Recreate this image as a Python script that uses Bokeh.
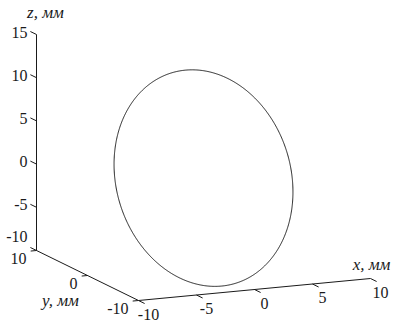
import numpy as np
from bokeh.plotting import figure
from bokeh.models import Range1d
from bokeh.embed import file_html
from bokeh.resources import INLINE
from bokeh.core.properties import value

# ---- axis limits, ticks and labels (mm) ----
x_lim = [-10, 10]
y_lim = [-10, 10]
z_lim = [-10, 15]
x_ticks = [-10, -5, 0, 5, 10]
y_ticks = [-10, 0, 10]
z_ticks = [-10, -5, 0, 5, 10, 15]
x_tick_labels = ["-10", "-5", "0", "5", "10"]
y_tick_labels = ["-10", "0", "10"]
z_tick_labels = ["-10", "-5", "0", "5", "10", "15"]
axis_titles = ["x, мм", "y, мм", "z, мм"]

# ---- the circle: centre, radius and orientation of its plane ----
circle_center = [0.0, 0.0, 0.0]
circle_radius = 12.0
normal_azimuth_deg = 12.0
normal_elevation_deg = -5.0

# ---- orthographic view: pixel position of the origin and of a unit step along each axis ----
VIEW_ORIGIN = np.array([203.0, 177.6])
E_X = np.array([11.6, -1.1])
E_Y = np.array([-5.1, -2.5])
E_Z = np.array([0.0, -8.64])


def project(x, y, z):
    x = np.asarray(x, dtype=float)
    y = np.asarray(y, dtype=float)
    z = np.asarray(z, dtype=float)
    sx = VIEW_ORIGIN[0] + x * E_X[0] + y * E_Y[0] + z * E_Z[0]
    sy = VIEW_ORIGIN[1] + x * E_X[1] + y * E_Y[1] + z * E_Z[1]
    return sx, sy


# circle points in 3D
az = np.radians(normal_azimuth_deg)
el = np.radians(normal_elevation_deg)
n = np.array([np.cos(el) * np.cos(az), np.cos(el) * np.sin(az), np.sin(el)])
u = np.cross(n, [0.0, 0.0, 1.0])
u /= np.linalg.norm(u)
v = np.cross(n, u)
t = np.linspace(0, 2 * np.pi, 721)
pts = (np.array(circle_center)[:, None]
       + circle_radius * (np.outer(u, np.cos(t)) + np.outer(v, np.sin(t))))

W, H = 395, 321
p = figure(width=W, height=H, output_backend="svg", toolbar_location=None,
           x_range=Range1d(0, W), y_range=Range1d(H, 0), min_border=0)
p.axis.visible = False
p.grid.visible = False
p.outline_line_color = None
p.background_fill_color = "white"
p.border_fill_color = "white"

INK = "#1a1a1a"
FONT = value("Liberation Serif")
TICK_SIZE = "16px"
TITLE_SIZE = "17px"

# axis lines along the box edges
x0, x1 = x_lim
y0, y1 = y_lim
z0, z1 = z_lim
for a, b in [((x0, y1, z0), (x0, y1, z1)),      # z axis
             ((x0, y1, z0), (x0, y0, z0)),      # y axis
             ((x0, y0, z0), (x1, y0, z0))]:     # x axis
    sx, sy = project([a[0], b[0]], [a[1], b[1]], [a[2], b[2]])
    p.line(sx, sy, line_color=INK, line_width=1)

# tick marks point outward from the box
tick_len = 1.2
zx, zy = project([x0] * len(z_ticks), [y1] * len(z_ticks), z_ticks)
zx2, zy2 = project([x0] * len(z_ticks), [y1 + tick_len] * len(z_ticks), z_ticks)
p.segment(zx, zy, zx2, zy2, line_color=INK, line_width=1)

yx, yy = project([x0] * len(y_ticks), y_ticks, [z0] * len(y_ticks))
yx2, yy2 = project([x0 - 0.5] * len(y_ticks), y_ticks, [z0] * len(y_ticks))
p.segment(yx, yy, yx2, yy2, line_color=INK, line_width=1)

xx, xy = project(x_ticks, [y0] * len(x_ticks), [z0] * len(x_ticks))
xx2, xy2 = project(x_ticks, [y0 - tick_len] * len(x_ticks), [z0] * len(x_ticks))
p.segment(xx, xy, xx2, xy2, line_color=INK, line_width=1)

# tick labels
z_off = [-14 if zt == z0 else -2.5 for zt in z_ticks]  # lowest one lifted clear of the y label
p.text(zx, zy, text=z_tick_labels, x_offset=-9, y_offset=z_off,
       text_align="right", text_baseline="middle", text_font=FONT,
       text_font_size=TICK_SIZE, text_color=INK)
p.text(yx, yy, text=y_tick_labels, x_offset=-10, y_offset=8,
       text_align="right", text_baseline="middle", text_font=FONT,
       text_font_size=TICK_SIZE, text_color=INK)
p.text(xx, xy, text=x_tick_labels, x_offset=10, y_offset=13.5,
       text_align="center", text_baseline="middle", text_font=FONT,
       text_font_size=TICK_SIZE, text_color=INK)

# axis titles
tx, ty = project([x1], [y0], [z0])
p.text(tx, ty, text=[axis_titles[0]], x_offset=1, y_offset=-14,
       text_align="center", text_baseline="middle", text_font=FONT,
       text_font_style="italic", text_font_size=TITLE_SIZE, text_color=INK)
tx, ty = project([x0], [0.5 * (y0 + y1)], [z0])
p.text(tx, ty, text=[axis_titles[1]], x_offset=-27, y_offset=25,
       text_align="center", text_baseline="middle", text_font=FONT,
       text_font_style="italic", text_font_size=TITLE_SIZE, text_color=INK)
tx, ty = project([x0], [y1], [z1])
p.text(tx, ty, text=[axis_titles[2]], x_offset=9, y_offset=-22,
       text_align="center", text_baseline="middle", text_font=FONT,
       text_font_style="italic", text_font_size=TITLE_SIZE, text_color=INK)

# the circle
cx, cy = project(pts[0], pts[1], pts[2])
p.line(cx, cy, line_color="#222222", line_width=1)

open("out.html", "w").write(file_html(p, INLINE))
